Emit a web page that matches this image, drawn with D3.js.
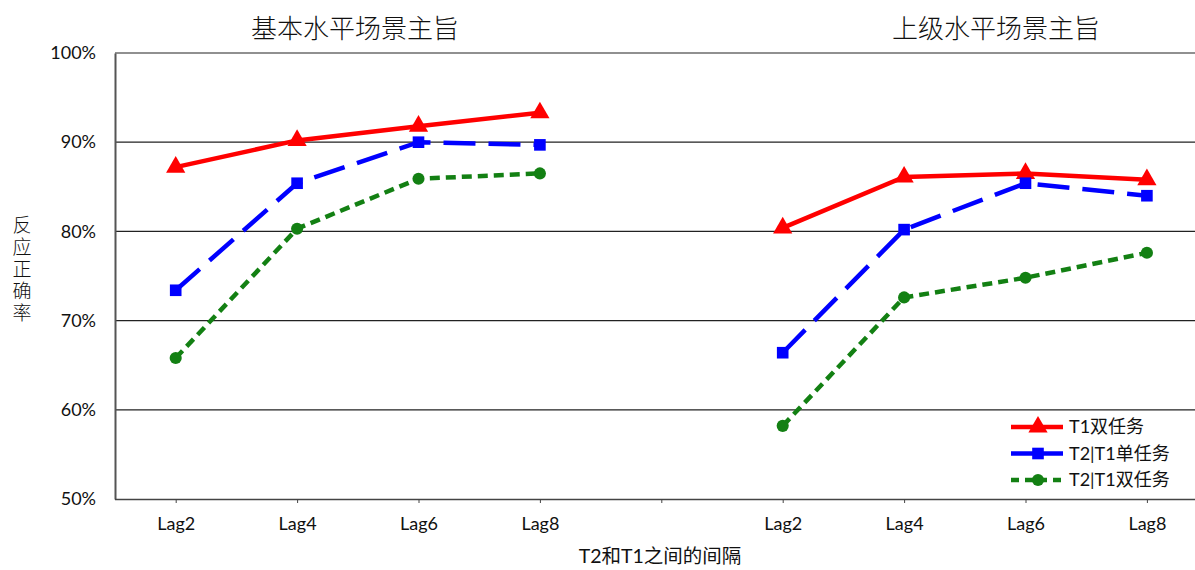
<!DOCTYPE html>
<html><head><meta charset="utf-8">
<script src="https://cdn.jsdelivr.net/npm/d3@7"></script>
<style>body{margin:0;background:#fff}</style>
</head><body>
<svg id="c" width="1195" height="570"></svg>
<script>
const categories = ["Lag2","Lag4","Lag6","Lag8","","Lag2 ","Lag4 ","Lag6 ","Lag8 "];
const tickLabels = ["Lag2","Lag4","Lag6","Lag8","","Lag2","Lag4","Lag6","Lag8"];
const groupTitles = ["基本水平场景主旨","上级水平场景主旨"];
const seriesNames = ["T1双任务","T2|T1单任务","T2|T1双任务"];
const t1Dual = [87.2,90.2,91.8,93.3,null,80.4,86.1,86.5,85.8];
const t2Single = [73.4,85.4,90.0,89.7,null,66.4,80.2,85.4,84.0];
const t2Dual = [65.8,80.3,85.9,86.5,null,58.2,72.6,74.8,77.6];
const yTicks = [50,60,70,80,90,100];

const svg = d3.select("#c");
const L=115, T=53, B=499, step=121.4;
const x = d3.scalePoint().domain(categories).range([L+step/2, L+step*8.5]);
const y = d3.scaleLinear().domain([50,100]).range([B,T]);

// gridlines
svg.append("g").selectAll("line").data(yTicks.slice(1)).join("line")
  .attr("x1",L).attr("x2",1195).attr("y1",d=>y(d)).attr("y2",d=>y(d))
  .attr("stroke","#222").attr("stroke-width",1.2);

// y axis
const yAx = svg.append("g").attr("transform",`translate(${L},0)`)
  .call(d3.axisLeft(y).tickValues(yTicks).tickFormat(d=>d+"%").tickSize(0).tickPadding(19));
yAx.select(".domain").attr("stroke","#555").attr("stroke-width",2);
yAx.selectAll("text").attr("font-family","Lato, 'Open Sans', sans-serif").attr("font-size",18).attr("fill","#111");

// x axis
const xAx = svg.append("g").attr("transform",`translate(0,${B})`)
  .call(d3.axisBottom(x).tickSize(4).tickPadding(14).tickFormat((d,i)=>tickLabels[i]));
xAx.select(".domain").attr("d",`M${L},0.5H1195`).attr("stroke","#444").attr("stroke-width",1.5);
xAx.selectAll(".tick line").attr("stroke","#444");
xAx.selectAll("text").attr("font-family","Lato, 'Open Sans', sans-serif").attr("font-size",18).attr("fill","#111");

// titles
const titleX = [355, 996];
svg.selectAll(".gt").data(groupTitles).join("text").attr("class","gt")
  .attr("x",(d,i)=>titleX[i]).attr("y",38).attr("text-anchor","middle")
  .attr("font-family","'Noto Sans CJK SC', sans-serif").attr("font-size",26).attr("font-weight",300).attr("fill","#111").text(d=>d);

// y label (vertical)
svg.append("text").attr("x",22).attr("y",215)
  .attr("writing-mode","vertical-rl").attr("letter-spacing",3)
  .attr("font-family","'Noto Sans CJK SC', sans-serif").attr("font-size",19).attr("font-weight",300).attr("fill","#111")
  .text("反应正确率");

// x title
svg.append("text").attr("x",660).attr("y",563).attr("text-anchor","middle")
  .attr("font-family","Lato, 'Noto Sans CJK SC', sans-serif").attr("font-size",19.5).attr("fill","#111").text("T2和T1之间的间隔");

const series = [
  {vals:t1Dual,color:"#ff0000",dash:null,marker:d3.symbolTriangle,size:160},
  {vals:t2Single,color:"#0000ff",dash:"32,13",marker:d3.symbolSquare,size:135},
  {vals:t2Dual,color:"#138013",dash:"10,6",marker:d3.symbolCircle,size:115}
];
const line = d3.line().defined(d=>d.v!=null).x(d=>x(d.c)).y(d=>y(d.v));
series.forEach(s=>{
  const pts = s.vals.map((v,i)=>({c:categories[i],v}));
  svg.append("path").datum(pts).attr("d",line).attr("fill","none")
    .attr("stroke",s.color).attr("stroke-width",4.5).attr("stroke-dasharray",s.dash);
  svg.append("g").selectAll("path").data(pts.filter(p=>p.v!=null)).join("path")
    .attr("transform",p=>`translate(${x(p.c)},${y(p.v)})`)
    .attr("d",d3.symbol(s.marker,s.size)).attr("fill",s.color);
});

// legend
const lg = svg.append("g");
series.forEach((s,i)=>{
  const yy = 427 + i*26.5;
  const g = lg.append("g");
  g.append("line").attr("x1",1011).attr("x2",1063).attr("y1",yy).attr("y2",yy)
    .attr("stroke",s.color).attr("stroke-width",4.5).attr("stroke-dasharray",s.dash ? (i==1?"18,0":"8,6"):null);
  g.append("path").attr("transform",`translate(1038,${yy})`).attr("d",d3.symbol(s.marker,s.size)).attr("fill",s.color);
  g.append("text").attr("x",1069).attr("y",yy+6).attr("font-family","Lato, 'Noto Sans CJK SC', sans-serif")
    .attr("font-size",18).attr("fill","#111").text(seriesNames[i]);
});
</script>
</body></html>
